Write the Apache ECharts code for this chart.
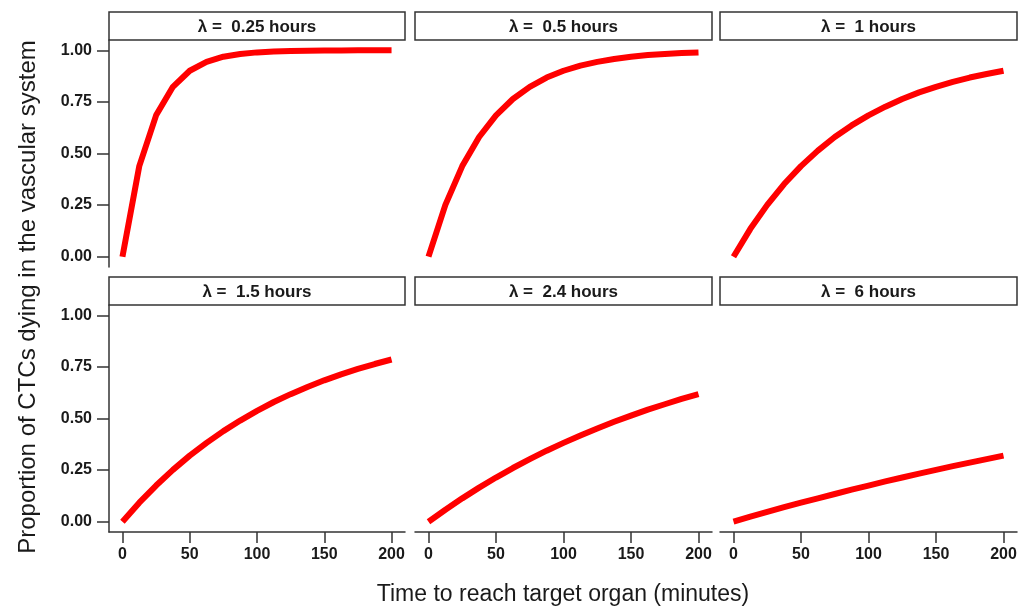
<!DOCTYPE html>
<html lang="en">
<head>
    <meta charset="UTF-8">
    <title>facets</title>
    <script src="https://cdn.jsdelivr.net/npm/echarts@6/dist/echarts.min.js"></script>
    <style>
        body { margin: 0; padding: 0; background: #fff; }
        #chart { width: 1028px; height: 610px; }
    </style>
</head>
<body>
<div id="chart"></div>
<script>
    // time points (minutes)
    var times = [0, 12.5, 25, 37.5, 50, 62.5, 75, 87.5, 100, 112.5, 125, 137.5, 150, 162.5, 175, 187.5, 200];
    var panelLabels = ['λ =  0.25 hours', 'λ =  0.5 hours', 'λ =  1 hours', 'λ =  1.5 hours', 'λ =  2.4 hours', 'λ =  6 hours'];
    var xTicks = [0, 50, 100, 150, 200];
    var yTicks = [0, 0.25, 0.5, 0.75, 1];

    // proportion dying
    var lam025 = [0, 0.439, 0.685, 0.823, 0.901, 0.944, 0.969, 0.982, 0.990, 0.994, 0.997, 0.998, 0.999, 0.999, 1, 1, 1];
    var lam05 = [0, 0.251, 0.439, 0.580, 0.685, 0.764, 0.823, 0.868, 0.901, 0.926, 0.944, 0.958, 0.969, 0.977, 0.982, 0.987, 0.990];
    var lam1 = [0, 0.135, 0.251, 0.352, 0.439, 0.514, 0.580, 0.636, 0.685, 0.727, 0.764, 0.796, 0.823, 0.847, 0.868, 0.885, 0.901];
    var lam15 = [0, 0.092, 0.175, 0.251, 0.320, 0.382, 0.439, 0.490, 0.537, 0.580, 0.618, 0.653, 0.685, 0.714, 0.740, 0.764, 0.786];
    var lam24 = [0, 0.058, 0.113, 0.165, 0.214, 0.260, 0.303, 0.344, 0.382, 0.418, 0.452, 0.484, 0.514, 0.543, 0.569, 0.595, 0.618];
    var lam6 = [0, 0.024, 0.047, 0.070, 0.092, 0.113, 0.134, 0.155, 0.175, 0.195, 0.214, 0.233, 0.251, 0.269, 0.286, 0.303, 0.320];
    var panelData = [lam025, lam05, lam1, lam15, lam24, lam6];

    var colLeft = [109, 415, 720];
    var colWidth = [296, 297, 297];
    var rowTop = [40, 305];
    var plotHeight = 227;
    var stripHeight = 28;
    var axisColor = '#333';
    var font = '"Liberation Sans", Arial, sans-serif';

    var grid = [], xAxis = [], yAxis = [], series = [], graphic = [];

    for (var i = 0; i < 6; i++) {
        var r = Math.floor(i / 3), c = i % 3;
        grid.push({
            left: colLeft[c], top: rowTop[r], width: colWidth[c], height: plotHeight,
            containLabel: false
        });
        xAxis.push({
            type: 'value', gridIndex: i, min: -10, max: 210,
            axisLine: { show: r === 1, onZero: false, lineStyle: { color: axisColor, width: 1.5 } },
            axisTick: { show: r === 1, length: 11, customValues: xTicks, lineStyle: { color: axisColor, width: 1.5 } },
            axisLabel: {
                show: r === 1, customValues: xTicks, margin: 15,
                color: '#1a1a1a', fontSize: 16, fontWeight: 'bold', fontFamily: font
            },
            splitLine: { show: false }
        });
        yAxis.push({
            type: 'value', gridIndex: i, min: -0.05, max: 1.05,
            axisLine: { show: c === 0, onZero: false, lineStyle: { color: axisColor, width: 1.5 } },
            axisTick: { show: c === 0, length: 12, customValues: yTicks, lineStyle: { color: axisColor, width: 1.5 } },
            axisLabel: {
                show: c === 0, customValues: yTicks, margin: 17,
                color: '#1a1a1a', fontSize: 16, fontWeight: 'bold', fontFamily: font,
                formatter: function (v) { return v.toFixed(2); }
            },
            splitLine: { show: false }
        });
        var pts = [];
        for (var k = 0; k < times.length; k++) {
            pts.push([times[k], panelData[i][k]]);
        }
        series.push({
            type: 'line', xAxisIndex: i, yAxisIndex: i,
            data: pts, symbol: 'none', silent: true,
            lineStyle: { color: '#ff0000', width: 6, cap: 'butt', join: 'round' }
        });
        // strip header
        graphic.push({
            type: 'rect',
            shape: { x: colLeft[c], y: rowTop[r] - stripHeight, width: colWidth[c], height: stripHeight },
            style: { fill: '#fff', stroke: axisColor, lineWidth: 1.5 }
        });
        graphic.push({
            type: 'text',
            x: colLeft[c] + colWidth[c] / 2, y: rowTop[r] - stripHeight / 2 + 1,
            style: {
                text: panelLabels[i], align: 'center', verticalAlign: 'middle',
                fill: '#1a1a1a', font: 'bold 17px ' + font
            }
        });
    }

    graphic.push({
        type: 'text', x: 28, y: 297, rotation: Math.PI / 2,
        style: {
            text: 'Proportion of CTCs dying in the vascular system', align: 'center', verticalAlign: 'middle',
            fill: '#1a1a1a', font: '24px ' + font
        }
    });
    graphic.push({
        type: 'text', x: 563, y: 595,
        style: {
            text: 'Time to reach target organ (minutes)', align: 'center', verticalAlign: 'middle',
            fill: '#1a1a1a', font: '23px ' + font
        }
    });

    var myChart = echarts.init(document.getElementById('chart'));
    myChart.setOption({
        backgroundColor: '#fff',
        animation: false,
        grid: grid,
        xAxis: xAxis,
        yAxis: yAxis,
        series: series,
        graphic: graphic
    });
</script>
</body>
</html>
